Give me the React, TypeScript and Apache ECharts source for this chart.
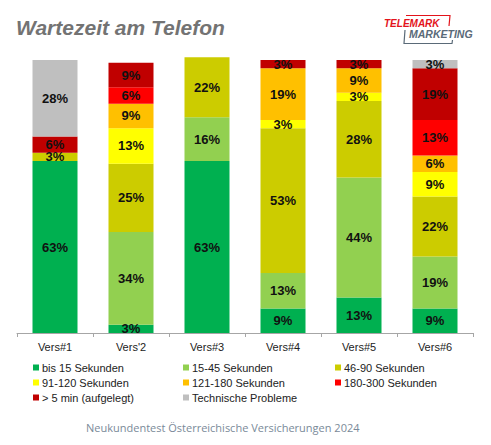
import React, { useEffect, useRef } from "react";
import * as echarts from "echarts";

const categories = ["Vers#1", "Vers'2", "Vers#3", "Vers#4", "Vers#5", "Vers#6"];
const seriesNames = [
  "bis 15 Sekunden",
  "15-45 Sekunden",
  "46-90 Sekunden",
  "91-120 Sekunden",
  "121-180 Sekunden",
  "180-300 Sekunden",
  "> 5 min (aufgelegt)",
  "Technische Probleme",
];
const bis15 = [63, 3, 63, 9, 13, 9];
const s15to45 = [0, 34, 16, 13, 44, 19];
const s46to90 = [3, 25, 22, 53, 28, 22];
const s91to120 = [0, 13, 0, 3, 3, 9];
const s121to180 = [0, 9, 0, 19, 9, 6];
const s180to300 = [0, 6, 0, 0, 0, 13];
const over5min = [6, 9, 0, 3, 3, 19];
const technisch = [28, 0, 0, 0, 0, 3];
const seriesValues = [bis15, s15to45, s46to90, s91to120, s121to180, s180to300, over5min, technisch];
const colors = ["#00B050", "#92D050", "#CCCC00", "#FFFF00", "#FFC000", "#FF0000", "#C00000", "#BFBFBF"];

const legendCols = [
  [seriesNames[0], seriesNames[3], seriesNames[6]],
  [seriesNames[1], seriesNames[4], seriesNames[7]],
  [seriesNames[2], seriesNames[5]],
];

export default function App() {
  const ref = useRef<HTMLDivElement>(null);
  useEffect(() => {
    if (!ref.current) return;
    const chart = echarts.init(ref.current, null, { renderer: "svg" });
    const font = "Arial, 'Liberation Sans', sans-serif";
    const legendX = [33, 183, 335];
    chart.setOption({
      animation: false,
      color: colors,
      textStyle: { fontFamily: font },
      grid: { left: 17, right: 18, top: 60, bottom: 112, containLabel: false },
      xAxis: {
        type: "category",
        data: categories,
        axisLine: { lineStyle: { color: "#A6A6A6" } },
        axisTick: { show: true, length: 4, lineStyle: { color: "#A6A6A6" } },
        axisLabel: { color: "#222", fontSize: 11, fontFamily: font, margin: 8 },
      },
      yAxis: { type: "value", min: 0, max: 100, show: false, splitLine: { show: false } },
      legend: legendCols.map((col, i) => ({
        orient: "vertical",
        left: legendX[i],
        top: 361,
        data: col,
        icon: "rect",
        itemWidth: 6,
        itemHeight: 6,
        itemGap: 2,
        padding: 0,
        textStyle: { fontSize: 11, color: "#222", fontFamily: font, lineHeight: 13, padding: [0, 0, 0, -2] },
        selectedMode: false,
      })),
      series: seriesNames.map((name, i) => ({
        name,
        type: "bar",
        stack: "all",
        barWidth: 45,
        clip: false,
        data: seriesValues[i],
        itemStyle: { color: colors[i] },
        label: {
          show: true,
          position: "inside",
          color: "#111",
          fontSize: 13,
          fontWeight: "bold",
          fontFamily: font,
          formatter: (p: any) => (p.value > 0 ? p.value + "%" : ""),
        },
      })),
      graphic: [
        {
          type: "text",
          left: 16,
          top: 17,
          style: {
            text: "Wartezeit am Telefon",
            fontSize: 21,
            fontWeight: "bold",
            fontStyle: "italic",
            fill: "#737373",
            fontFamily: font,
          },
        },
        {
          type: "polyline",
          shape: { points: [[406, 15.5], [450, 15.5], [449, 26]] },
          style: { stroke: "#E3131B", lineWidth: 1.2, fill: "none" },
        },
        {
          type: "polyline",
          shape: { points: [[405, 30], [404, 43.5], [452, 43.5], [452.5, 40]] },
          style: { stroke: "#5A6A78", lineWidth: 1.2, fill: "none" },
        },
        {
          type: "text",
          x: 384,
          y: 23.5,
          style: {
            text: "TELEMARK",
            fontSize: 10,
            lineHeight: 10,
            fontWeight: "bold",
            fontStyle: "italic",
            fill: "#E3131B",
            fontFamily: font,
            verticalAlign: "middle",
          },
        },
        {
          type: "text",
          x: 409,
          y: 34,
          style: {
            text: "MARKETING",
            fontSize: 10.5,
            lineHeight: 10.5,
            fontWeight: "bold",
            fontStyle: "italic",
            fill: "#5A6A78",
            fontFamily: font,
            verticalAlign: "middle",
          },
        },
        {
          type: "text",
          x: 86,
          y: 427,
          style: {
            text: "Neukundentest Österreichische Versicherungen 2024",
            fontSize: 11,
            fill: "#7A8A99",
            fontFamily: "'Open Sans', 'Noto Sans', sans-serif",
            verticalAlign: "middle",
          },
        },
      ],
    });
    return () => chart.dispose();
  }, []);
  return <div ref={ref} style={{ width: 491, height: 445, position: "absolute", left: 0, top: 0 }} />;
}
